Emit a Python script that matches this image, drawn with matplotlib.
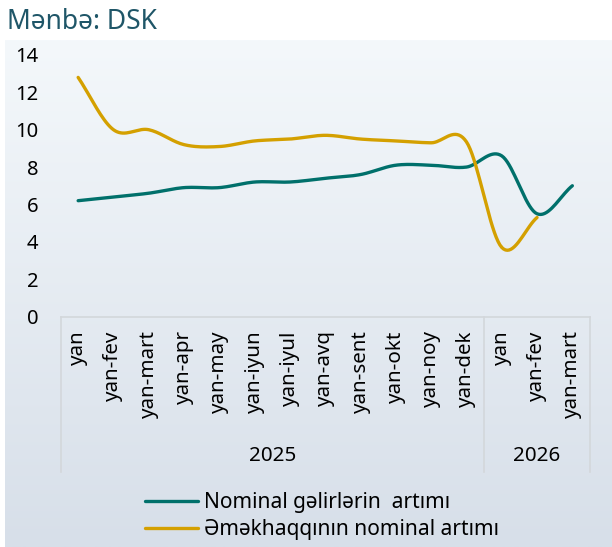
import numpy as np
import matplotlib
matplotlib.use("Agg")
import matplotlib.pyplot as plt
import matplotlib.transforms as mtransforms

plt.rcParams['font.family'] = ['Noto Sans', 'DejaVu Sans']

# Data
months = ["yan", "yan-fev", "yan-mart", "yan-apr", "yan-may", "yan-iyun", "yan-iyul",
          "yan-avq", "yan-sent", "yan-okt", "yan-noy", "yan-dek",
          "yan", "yan-fev", "yan-mart"]
years = ["2025", "2026"]
year_sizes = [12, 3]
income_growth = [6.2, 6.4, 6.6, 6.9, 6.9, 7.2, 7.2, 7.4, 7.6, 8.1, 8.1, 8.0, 8.6, 5.5, 7.0]
wage_growth = [12.8, 10.0, 10.0, 9.2, 9.1, 9.4, 9.5, 9.7, 9.5, 9.4, 9.3, 9.35, 3.7, 5.3]
labels = ["Nominal gəlirlərin  artımı", "Əməkhaqqının nominal artımı"]

TEAL = "#00706b"
GOLD = "#d4a000"


def smooth(x, y, n=20):
    # Catmull-Rom style smoothing, like Excel's "smoothed line"
    x = np.asarray(x, float)
    y = np.asarray(y, float)
    px = np.concatenate([[2 * x[0] - x[1]], x, [2 * x[-1] - x[-2]]])
    py = np.concatenate([[2 * y[0] - y[1]], y, [2 * y[-1] - y[-2]]])
    xs, ys = [], []
    t = np.linspace(0, 1, n)
    for i in range(1, len(px) - 2):
        p0, p1, p2, p3 = py[i - 1], py[i], py[i + 1], py[i + 2]
        ys.append(0.5 * ((2 * p1) + (-p0 + p2) * t + (2 * p0 - 5 * p1 + 4 * p2 - p3) * t ** 2
                         + (-p0 + 3 * p1 - 3 * p2 + p3) * t ** 3))
        xs.append(px[i] + (px[i + 1] - px[i]) * t)
    return np.concatenate(xs), np.concatenate(ys)


W, H = 612, 547
fig = plt.figure(figsize=(W / 100, H / 100), dpi=100)
fig.patch.set_facecolor("white")

# gradient panel behind the chart
bg = fig.add_axes([5 / W, 0, 1 - 5 / W, 1 - 40 / H])
grad = np.linspace(0, 1, 256)[:, None]
top = np.array([0xf4, 0xf8, 0xfb]) / 255
bot = np.array([0xd7, 0xdf, 0xe9]) / 255
img = top[None, None, :] * (1 - grad[:, :, None]) + bot[None, None, :] * grad[:, :, None]
bg.imshow(img, aspect="auto", extent=[0, 1, 0, 1])
bg.set_axis_off()

fig.text(7 / W, 1 - 22 / H, "Mənbə: DSK", fontsize=19, color="#1f5668",
         ha="left", va="center")

left, right = 60.5, 590
y0, y14 = 316.5, 55
ax = fig.add_axes([left / W, 1 - y0 / H, (right - left) / W, (y0 - y14) / H])
ax.set_facecolor("none")
ax.set_xlim(-0.5, len(months) - 0.5)
ax.set_ylim(0, 14)

x = np.arange(len(months))
sx, sy = smooth(x, income_growth)
ax.plot(sx, sy, color=TEAL, lw=2.4, solid_capstyle="round", label=labels[0])
sx, sy = smooth(x[:len(wage_growth)], wage_growth)
ax.plot(sx, sy, color=GOLD, lw=2.4, solid_capstyle="round", label=labels[1])

ax.set_yticks(range(0, 15, 2))
ax.tick_params(axis="y", length=0, pad=16, labelsize=14.5)
ax.set_xticks(x)
ax.set_xticklabels(months, rotation=90, fontsize=14.8)
ax.tick_params(axis="x", length=0, pad=10)

for s in ["top", "right", "left"]:
    ax.spines[s].set_visible(False)
ax.spines["bottom"].set_color("#d3d7db")
ax.spines["bottom"].set_linewidth(1.2)

# category group box
trans = mtransforms.blended_transform_factory(ax.transData, ax.transAxes)
ybot = -(472 - y0) / (y0 - y14)
edges = np.concatenate([[0], np.cumsum(year_sizes)]) - 0.5
for e in edges:
    ax.plot([e, e], [0, ybot], color="#d3d7db", lw=1.2, transform=trans, clip_on=False)
ylab = -(456 - y0) / (y0 - y14)
for yr, a, b in zip(years, edges[:-1], edges[1:]):
    ax.text((a + b) / 2, ylab, yr, transform=trans, ha="center", va="center", fontsize=14.8)

fig.legend(loc="center left", bbox_to_anchor=(135 / W, 1 - 516 / H), frameon=False,
           fontsize=15, handlelength=2.5, handletextpad=0.3, labelspacing=0.3,
           borderpad=0)

fig.savefig("out.png", dpi=100)
